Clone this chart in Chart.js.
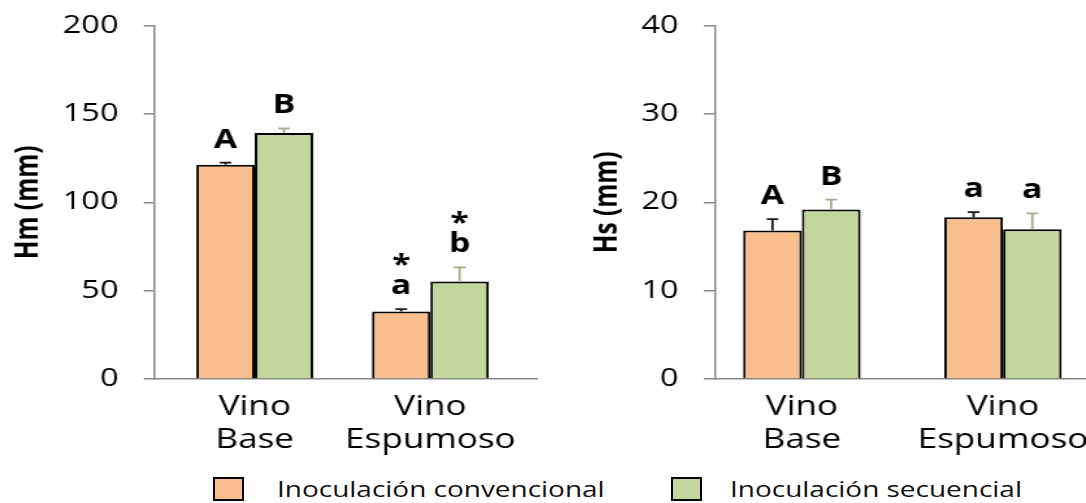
<!DOCTYPE html>
<html>
<head>
<meta charset="utf-8">
<script src="https://cdn.jsdelivr.net/npm/chart.js@4.4.1/dist/chart.umd.min.js"></script>
<style>
  body { margin: 0; background: #fff; width: 1086px; height: 503px; position: relative; overflow: hidden; }
  canvas { position: absolute; top: 0; }
  .caja { position: absolute; top: 477px; width: 31px; height: 24px; border: 2px solid #000; box-sizing: border-box; }
  .texto { position: absolute; top: 474px; font-family: "Open Sans", sans-serif; font-size: 21.5px; line-height: 30px;
           color: #111; white-space: nowrap; transform: scaleX(1.3); transform-origin: left center; }
</style>
</head>
<body>
<canvas id="graficoHm" width="414" height="460" style="left:0px;width:538px;height:460px"></canvas>
<canvas id="graficoHs" width="420" height="460" style="left:540px;width:546px;height:460px"></canvas>

<div class="caja" style="left:213px;background:#F9BE8E"></div>
<div class="texto" style="left:277px">Inoculación convencional</div>
<div class="caja" style="left:671px;background:#C3D69B"></div>
<div class="texto" style="left:730px">Inoculación secuencial</div>

<script>
// datos
const categorias = [["Vino", "Base"], ["Vino", "Espumoso"]];
const series = ["Inoculación convencional", "Inoculación secuencial"];

const hmConvencional = [121.3, 38.2];
const hmSecuencial = [139.3, 55.2];
const errHmConvencional = [1.2, 1.4];
const errHmSecuencial = [2.6, 8.0];
const letrasHmConvencional = [["A"], ["*", "a"]];
const letrasHmSecuencial = [["B"], ["*", "b"]];
const ticksHm = [0, 50, 100, 150, 200];

const hsConvencional = [16.8, 18.3];
const hsSecuencial = [19.2, 16.95];
const errHsConvencional = [1.3, 0.6];
const errHsSecuencial = [1.1, 1.8];
const letrasHsConvencional = [["A"], ["a"]];
const letrasHsSecuencial = [["B"], ["a"]];
const ticksHs = [0, 10, 20, 30, 40];

const colores = ["#F9BE8E", "#C3D69B"];
const coloresError = ["#1a1a1a", "#a3ad84"];

Chart.defaults.color = "#000";
Chart.defaults.font.family = "'Open Sans', sans-serif";

// barras de error (solo hacia arriba) y letras de significancia
const pluginErrores = {
    id: "errores",
    afterDatasetsDraw(chart) {
        const ctx = chart.ctx;
        const escalaY = chart.scales.y;
        chart.data.datasets.forEach((ds, i) => {
            const meta = chart.getDatasetMeta(i);
            meta.data.forEach((barra, j) => {
                const tope = escalaY.getPixelForValue(ds.data[j].y + ds.errores[j]);
                ctx.save();
                ctx.strokeStyle = ds.colorError;
                ctx.lineWidth = 1.8;
                ctx.beginPath();
                ctx.moveTo(barra.x, barra.y);
                ctx.lineTo(barra.x, tope);
                ctx.moveTo(barra.x - 4.5, tope);
                ctx.lineTo(barra.x + 4.5, tope);
                ctx.stroke();

                ctx.fillStyle = "#000";
                ctx.font = "bold 26px 'Open Sans'";
                ctx.textAlign = "center";
                ctx.textBaseline = "alphabetic";
                let base = tope - 15;
                const lineas = ds.letras[j];
                for (let k = lineas.length - 1; k >= 0; k--) {
                    ctx.fillText(lineas[k], barra.x, base);
                    base -= 20;
                }
                ctx.restore();
            });
        });
    },
};

const crearDataset = (nombre, valores, errores, letras, n) => ({
    label: nombre,
    data: valores.map((v, i) => ({ x: i + 1, y: v })),
    errores: errores,
    letras: letras,
    colorError: coloresError[n],
    backgroundColor: colores[n],
    borderColor: "#000",
    borderWidth: 2,
    borderSkipped: "bottom",
});

const crearGrafico = (id, conf) => {
    new Chart(document.getElementById(id), {
        type: "bar",
        data: {
            datasets: [
                crearDataset(series[0], conf.conv, conf.errConv, conf.letrasConv, 0),
                crearDataset(series[1], conf.sec, conf.errSec, conf.letrasSec, 1),
            ],
        },
        options: {
            responsive: false,
            animation: false,
            devicePixelRatio: 1,
            categoryPercentage: conf.anchoGrupo,
            barPercentage: 1,
            layout: { padding: { top: 25.7, left: 0, right: 0, bottom: 0 } },
            plugins: { legend: { display: false }, tooltip: { enabled: false } },
            scales: {
                x: {
                    type: "linear",
                    min: conf.xMin,
                    max: conf.xMax,
                    offset: false,
                    afterBuildTicks: (s) => {
                        s.ticks = categorias.map((c, i) => ({ value: i + 1 }));
                    },
                    ticks: {
                        callback: (v) => categorias[v - 1],
                        font: { size: 27, lineHeight: 1.22 },
                        padding: 12,
                        maxRotation: 0,
                        autoSkip: false,
                        color: "#000",
                    },
                    grid: { display: false, drawTicks: false },
                    border: { display: true, color: "#868686", width: 1.5 },
                    afterFit: (s) => {
                        s.height = 81;
                        s.paddingLeft = 0;
                        s.paddingRight = 0;
                    },
                },
                y: {
                    min: conf.ticks[0],
                    max: conf.ticks[conf.ticks.length - 1],
                    afterBuildTicks: (s) => {
                        s.ticks = conf.ticks.map((v) => ({ value: v }));
                    },
                    ticks: { padding: 19.5, font: { size: 25 }, color: "#000" },
                    grid: { drawOnChartArea: false, tickLength: 8.5, color: "#868686", lineWidth: 1.5 },
                    border: { color: "#868686", width: 1.5 },
                    title: {
                        display: true,
                        text: conf.titulo,
                        color: "#000",
                        font: { weight: "bold", size: 24.5 },
                        padding: { top: conf.padTitulo, bottom: 0 },
                    },
                    afterFit: (s) => {
                        s.width = conf.anchoEje;
                        s.paddingTop = 0;
                        s.paddingBottom = 0;
                    },
                },
            },
        },
        plugins: [pluginErrores],
    });
};

crearGrafico("graficoHm", {
    conv: hmConvencional, sec: hmSecuencial,
    errConv: errHmConvencional, errSec: errHmSecuencial,
    letrasConv: letrasHmConvencional, letrasSec: letrasHmSecuencial,
    ticks: ticksHm, titulo: "Hm (mm)",
    xMin: 0.4316, xMax: 2.6127, anchoGrupo: 0.665,
    anchoEje: 119.2, padTitulo: 7.6,
});

crearGrafico("graficoHs", {
    conv: hsConvencional, sec: hsSecuencial,
    errConv: errHsConvencional, errSec: errHsSecuencial,
    letrasConv: letrasHsConvencional, letrasSec: letrasHsSecuencial,
    ticks: ticksHs, titulo: "Hs (mm)",
    xMin: 0.568, xMax: 2.413, anchoGrupo: 0.584,
    anchoEje: 134.6, padTitulo: 37.6,
});
</script>
</body>
</html>
